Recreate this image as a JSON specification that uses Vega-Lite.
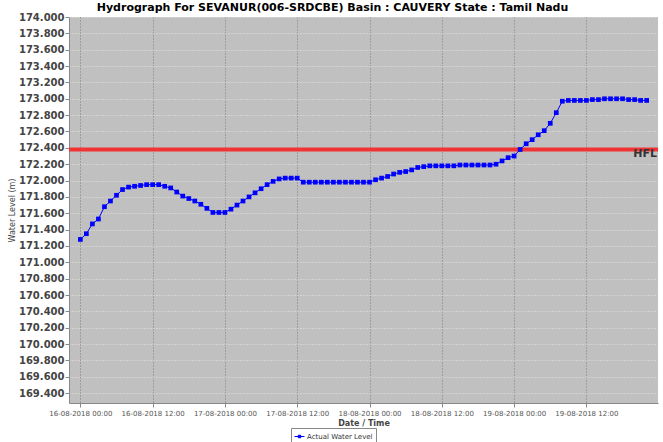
{
  "$schema": "https://vega.github.io/schema/vega-lite/v6.json",
  "width": 589,
  "height": 386,
  "autosize": {"type": "none"},
  "padding": {"left": 69, "top": 17, "right": 5, "bottom": 39},
  "background": "white",
  "title": {"text": "Hydrograph For SEVANUR(006-SRDCBE) Basin : CAUVERY State : Tamil Nadu", "font": "DejaVu Sans", "fontSize": 11, "fontWeight": "bold", "color": "#000000", "anchor": "middle", "dx": -31, "offset": -0.5},
  "config": {
    "view": {"fill": "#c0c0c0", "stroke": null},
    "font": "DejaVu Sans",
    "axisX": {"labelFont": "DejaVu Sans", "labelFontSize": 7, "labelColor": "#555555", "tickColor": "#888888", "tickSize": 4, "labelPadding": 2, "domainColor": "#888888", "gridColor": "#7a7a7a", "gridDash": [1, 2], "gridOpacity": 1, "titleFont": "DejaVu Sans", "titleFontSize": 8, "titleFontWeight": "bold", "titleColor": "#444444", "titlePadding": 3, "labelAngle": 0, "labelOverlap": false, "tickCount": 20},
    "axisY": {"labelFont": "DejaVu Sans", "labelFontSize": 10, "labelFontWeight": "bold", "labelColor": "#444444", "tickColor": "#888888", "tickSize": 4, "labelPadding": 1, "domainColor": "#888888", "gridColor": "#e4e4e4", "gridDash": [1, 2], "gridOpacity": 1, "titleFont": "DejaVu Sans", "titleFontSize": 8, "titleFontWeight": "normal", "titleColor": "#444444", "titlePadding": 2, "labelOverlap": false, "labelBound": false, "labelFlush": false, "tickCount": 40}
  },
  "datasets": {
    "level": [
      {"t": "2018-08-16T00:00", "v": 171.28}, {"t": "2018-08-16T01:00", "v": 171.35}, {"t": "2018-08-16T02:00", "v": 171.47}, {"t": "2018-08-16T03:00", "v": 171.53},
      {"t": "2018-08-16T04:00", "v": 171.68}, {"t": "2018-08-16T05:00", "v": 171.75}, {"t": "2018-08-16T06:00", "v": 171.82}, {"t": "2018-08-16T07:00", "v": 171.89},
      {"t": "2018-08-16T08:00", "v": 171.92}, {"t": "2018-08-16T09:00", "v": 171.93}, {"t": "2018-08-16T10:00", "v": 171.94}, {"t": "2018-08-16T11:00", "v": 171.95},
      {"t": "2018-08-16T12:00", "v": 171.95}, {"t": "2018-08-16T13:00", "v": 171.95}, {"t": "2018-08-16T14:00", "v": 171.93}, {"t": "2018-08-16T15:00", "v": 171.91},
      {"t": "2018-08-16T16:00", "v": 171.86}, {"t": "2018-08-16T17:00", "v": 171.81}, {"t": "2018-08-16T18:00", "v": 171.78}, {"t": "2018-08-16T19:00", "v": 171.75},
      {"t": "2018-08-16T20:00", "v": 171.71}, {"t": "2018-08-16T21:00", "v": 171.66}, {"t": "2018-08-16T22:00", "v": 171.61}, {"t": "2018-08-16T23:00", "v": 171.61},
      {"t": "2018-08-17T00:00", "v": 171.61}, {"t": "2018-08-17T01:00", "v": 171.65}, {"t": "2018-08-17T02:00", "v": 171.70}, {"t": "2018-08-17T03:00", "v": 171.75},
      {"t": "2018-08-17T04:00", "v": 171.80}, {"t": "2018-08-17T05:00", "v": 171.85}, {"t": "2018-08-17T06:00", "v": 171.90}, {"t": "2018-08-17T07:00", "v": 171.95},
      {"t": "2018-08-17T08:00", "v": 171.99}, {"t": "2018-08-17T09:00", "v": 172.02}, {"t": "2018-08-17T10:00", "v": 172.03}, {"t": "2018-08-17T11:00", "v": 172.03},
      {"t": "2018-08-17T12:00", "v": 172.03}, {"t": "2018-08-17T13:00", "v": 171.98}, {"t": "2018-08-17T14:00", "v": 171.98}, {"t": "2018-08-17T15:00", "v": 171.98},
      {"t": "2018-08-17T16:00", "v": 171.98}, {"t": "2018-08-17T17:00", "v": 171.98}, {"t": "2018-08-17T18:00", "v": 171.98}, {"t": "2018-08-17T19:00", "v": 171.98},
      {"t": "2018-08-17T20:00", "v": 171.98}, {"t": "2018-08-17T21:00", "v": 171.98}, {"t": "2018-08-17T22:00", "v": 171.98}, {"t": "2018-08-17T23:00", "v": 171.98},
      {"t": "2018-08-18T00:00", "v": 171.98}, {"t": "2018-08-18T01:00", "v": 172.01}, {"t": "2018-08-18T02:00", "v": 172.03}, {"t": "2018-08-18T03:00", "v": 172.05},
      {"t": "2018-08-18T04:00", "v": 172.08}, {"t": "2018-08-18T05:00", "v": 172.10}, {"t": "2018-08-18T06:00", "v": 172.11}, {"t": "2018-08-18T07:00", "v": 172.13},
      {"t": "2018-08-18T08:00", "v": 172.16}, {"t": "2018-08-18T09:00", "v": 172.17}, {"t": "2018-08-18T10:00", "v": 172.18}, {"t": "2018-08-18T11:00", "v": 172.18},
      {"t": "2018-08-18T12:00", "v": 172.18}, {"t": "2018-08-18T13:00", "v": 172.18}, {"t": "2018-08-18T14:00", "v": 172.18}, {"t": "2018-08-18T15:00", "v": 172.19},
      {"t": "2018-08-18T16:00", "v": 172.19}, {"t": "2018-08-18T17:00", "v": 172.19}, {"t": "2018-08-18T18:00", "v": 172.19}, {"t": "2018-08-18T19:00", "v": 172.19},
      {"t": "2018-08-18T20:00", "v": 172.19}, {"t": "2018-08-18T21:00", "v": 172.20}, {"t": "2018-08-18T22:00", "v": 172.24}, {"t": "2018-08-18T23:00", "v": 172.28},
      {"t": "2018-08-19T00:00", "v": 172.30}, {"t": "2018-08-19T01:00", "v": 172.38}, {"t": "2018-08-19T02:00", "v": 172.45}, {"t": "2018-08-19T03:00", "v": 172.50},
      {"t": "2018-08-19T04:00", "v": 172.56}, {"t": "2018-08-19T05:00", "v": 172.61}, {"t": "2018-08-19T06:00", "v": 172.70}, {"t": "2018-08-19T07:00", "v": 172.83},
      {"t": "2018-08-19T08:00", "v": 172.97}, {"t": "2018-08-19T09:00", "v": 172.98}, {"t": "2018-08-19T10:00", "v": 172.98}, {"t": "2018-08-19T11:00", "v": 172.98},
      {"t": "2018-08-19T12:00", "v": 172.98}, {"t": "2018-08-19T13:00", "v": 172.99}, {"t": "2018-08-19T14:00", "v": 172.99}, {"t": "2018-08-19T15:00", "v": 173.00},
      {"t": "2018-08-19T16:00", "v": 173.00}, {"t": "2018-08-19T17:00", "v": 173.00}, {"t": "2018-08-19T18:00", "v": 173.00}, {"t": "2018-08-19T19:00", "v": 172.99},
      {"t": "2018-08-19T20:00", "v": 172.99}, {"t": "2018-08-19T21:00", "v": 172.98}, {"t": "2018-08-19T22:00", "v": 172.98}
    ],
    "hfl": [{"level": 172.38, "label": "HFL"}]
  },
  "layer": [
    {
      "data": {"name": "hfl"},
      "mark": {"type": "rule", "color": "#f23333", "strokeWidth": 4},
      "encoding": {
        "y": {"field": "level", "type": "quantitative", "title": "Water Level (m)", "scale": {"domain": [169.28, 174.0], "nice": false, "zero": false}, "axis": {"values": [169.4, 169.6, 169.8, 170.0, 170.2, 170.4, 170.6, 170.8, 171.0, 171.2, 171.4, 171.6, 171.8, 172.0, 172.2, 172.4, 172.6, 172.8, 173.0, 173.2, 173.4, 173.6, 173.8, 174.0], "format": ".3f", "tickCount": 40}}
      }
    },
    {
      "data": {"name": "level"},
      "mark": {"type": "line", "color": "#0000ff", "strokeWidth": 1},
      "encoding": {
        "x": {"field": "t", "type": "temporal", "title": "Date / Time", "scale": {"domain": [{"year": 2018, "month": 8, "date": 15, "hours": 22, "minutes": 7}, {"year": 2018, "month": 8, "date": 19, "hours": 23, "minutes": 53}], "nice": false}, "axis": {"format": "%d-%m-%Y %H:%M", "tickCount": 20, "values": [{"year": 2018, "month": 8, "date": 16, "hours": 0}, {"year": 2018, "month": 8, "date": 16, "hours": 12}, {"year": 2018, "month": 8, "date": 17, "hours": 0}, {"year": 2018, "month": 8, "date": 17, "hours": 12}, {"year": 2018, "month": 8, "date": 18, "hours": 0}, {"year": 2018, "month": 8, "date": 18, "hours": 12}, {"year": 2018, "month": 8, "date": 19, "hours": 0}, {"year": 2018, "month": 8, "date": 19, "hours": 12}]}},
        "y": {"field": "v", "type": "quantitative", "title": "Water Level (m)"},
        "color": {"datum": "Actual Water Level", "type": "nominal", "scale": {"range": ["#0000ff"]}, "legend": {"orient": "none", "legendX": 222, "legendY": 411, "title": null, "direction": "horizontal", "padding": 3, "strokeColor": "#888888", "fillColor": "#ffffff", "symbolType": "M-1,0H1M-0.25,-0.25H0.25V0.25H-0.25Z", "symbolSize": 100, "symbolStrokeWidth": 1, "symbolFillColor": "#0000ff", "symbolStrokeColor": "#0000ff", "labelFontSize": 7, "labelColor": "#333333", "labelFont": "DejaVu Sans", "labelOffset": 2, "cornerRadius": 0}}
      }
    },
    {
      "data": {"name": "level"},
      "mark": {"type": "point", "shape": "square", "size": 22, "filled": true, "opacity": 1, "color": "#0000ff"},
      "encoding": {
        "x": {"field": "t", "type": "temporal", "title": "Date / Time"},
        "y": {"field": "v", "type": "quantitative", "title": "Water Level (m)"},
        "color": {"datum": "Actual Water Level", "type": "nominal"}
      }
    },
    {
      "data": {"name": "hfl"},
      "mark": {"type": "text", "align": "right", "baseline": "alphabetic", "dy": 8, "dx": -1, "fontSize": 11, "fontWeight": "bold", "color": "#333333", "font": "DejaVu Sans"},
      "encoding": {
        "x": {"datum": {"year": 2018, "month": 8, "date": 19, "hours": 23, "minutes": 53}, "type": "temporal"},
        "y": {"field": "level", "type": "quantitative", "title": "Water Level (m)"},
        "text": {"field": "label", "type": "nominal"}
      }
    }
  ]
}
